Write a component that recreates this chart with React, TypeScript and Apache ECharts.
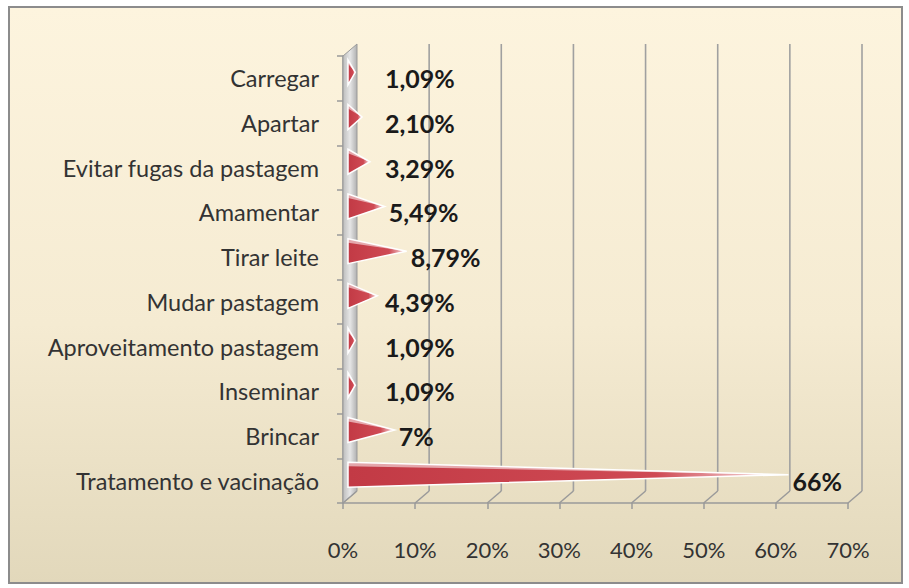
import React, { useEffect, useRef } from 'react';
import * as echarts from 'echarts';

const categories = [
  'Carregar',
  'Apartar',
  'Evitar fugas da pastagem',
  'Amamentar',
  'Tirar leite',
  'Mudar pastagem',
  'Aproveitamento pastagem',
  'Inseminar',
  'Brincar',
  'Tratamento e vacinação',
];
const values = [1.09, 2.1, 3.29, 5.49, 8.79, 4.39, 1.09, 1.09, 7, 66];
const valueLabels = ['1,09%', '2,10%', '3,29%', '5,49%', '8,79%', '4,39%', '1,09%', '1,09%', '7%', '66%'];
const xTicks = [0, 10, 20, 30, 40, 50, 60, 70];

const FONT = 'Lato, "Open Sans", sans-serif';

export default function App() {
  const ref = useRef<HTMLDivElement>(null);
  useEffect(() => {
    document.body.style.margin = '0';
    const chart = echarts.init(ref.current!, null, { renderer: 'svg' });
    const dx = 14;
    const dy = -12;
    const option: any = {
      animation: false,
      backgroundColor: '#ffffff',
      graphic: [
        {
          type: 'rect',
          z: -10,
          silent: true,
          shape: { x: 9, y: 7, width: 893, height: 576 },
          style: {
            fill: new echarts.graphic.LinearGradient(0, 0, 0, 1, [
              { offset: 0, color: '#fdf4de' },
              { offset: 0.55, color: '#f5ebd2' },
              { offset: 1, color: '#e2d8bb' },
            ]),
            stroke: '#8c8c8c',
            lineWidth: 2,
          },
        },
      ],
      grid: { left: 343, right: 61, top: 56, bottom: 85 },
      xAxis: {
        type: 'value',
        min: 0,
        max: 70,
        interval: 10,
        axisLabel: {
          formatter: '{value}%',
          margin: 35,
          fontSize: 22,
          color: '#333333',
          fontFamily: FONT,
        },
        axisLine: { show: true, lineStyle: { color: '#9a9a9a', width: 1.5 } },
        axisTick: { show: true, length: 6, lineStyle: { color: '#9a9a9a', width: 1.5 } },
        splitLine: { show: false },
      },
      yAxis: {
        type: 'category',
        inverse: true,
        data: categories,
        axisLabel: {
          margin: 24,
          fontSize: 23.5,
          color: '#333333',
          fontFamily: FONT,
          padding: [0, 0, 5, 0],
        },
        axisLine: { show: true, lineStyle: { color: '#9a9a9a', width: 1.5 } },
        axisTick: { show: true, length: 6, lineStyle: { color: '#9a9a9a', width: 1.5 } },
      },
      series: [
        {
          type: 'custom',
          silent: true,
          clip: false,
          z: 1,
          data: xTicks.map((t) => [t, 0]),
          encode: { x: 0, y: 1 },
          renderItem: (params: any, api: any) => {
            const cs = params.coordSys;
            const p = api.coord([api.value(0), 0]);
            const x = p[0];
            const top = cs.y;
            const bottom = cs.y + cs.height;
            const children: any[] = [];
            if (api.value(0) === 0) {
              children.push({
                type: 'polygon',
                shape: {
                  points: [
                    [x, top],
                    [x + dx, top + dy],
                    [x + dx, bottom + dy],
                    [x, bottom],
                  ],
                },
                style: {
                  fill: new echarts.graphic.LinearGradient(0, 0, 1, 0, [
                    { offset: 0, color: '#bdbdbd' },
                    { offset: 0.5, color: '#e6e6e6' },
                    { offset: 1, color: '#b0b0b0' },
                  ]),
                  stroke: '#9a9a9a',
                  lineWidth: 1,
                },
              });
            } else {
              children.push({
                type: 'line',
                shape: { x1: x + dx, y1: top + dy, x2: x + dx, y2: bottom + dy },
                style: { stroke: '#a0a0a0', lineWidth: 1.6 },
              });
            }
            children.push({
              type: 'line',
              shape: { x1: x, y1: bottom, x2: x + dx, y2: bottom + dy },
              style: { stroke: '#9a9a9a', lineWidth: 1.5 },
            });
            return { type: 'group', children };
          },
        },
        {
          type: 'custom',
          clip: false,
          z: 5,
          data: values.map((v, i) => [v, i]),
          encode: { x: 0, y: 1 },
          renderItem: (params: any, api: any) => {
            const v = api.value(0);
            const idx = api.value(1);
            const c = api.coord([0, idx]);
            const end = api.coord([v, idx])[0];
            const y = c[1] - 6;
            const h = 25;
            const x0 = c[0] + 5;
            const tip = x0 + (end - c[0]) * 0.925;
            const labelX = Math.max(tip + 4, c[0] + 42);
            return {
              type: 'group',
              children: [
                {
                  type: 'polygon',
                  shape: {
                    points: [
                      [x0, y - h / 2],
                      [tip, y],
                      [x0, y + h / 2],
                    ],
                  },
                  style: {
                    fill: new echarts.graphic.LinearGradient(0, 0, 1, 0, [
                      { offset: 0, color: '#c23a45' },
                      { offset: 0.7, color: '#cf4a54' },
                      { offset: 1, color: '#fbeeee' },
                    ]),
                    stroke: '#ffffff',
                    lineWidth: 1.5,
                  },
                },
                {
                  type: 'polygon',
                  shape: {
                    points: [
                      [x0, y - h / 2],
                      [tip, y],
                      [x0, y - h / 2 + 4],
                    ],
                  },
                  style: { fill: 'rgba(255,255,255,0.55)' },
                },
                {
                  type: 'text',
                  style: {
                    text: valueLabels[idx],
                    x: labelX,
                    y: c[1],
                    fill: '#1a1a1a',
                    fontSize: 25,
                    fontWeight: 'bold',
                    fontFamily: FONT,
                    verticalAlign: 'middle',
                    align: 'left',
                  },
                },
              ],
            };
          },
        },
      ],
    };
    chart.setOption(option);
    return () => chart.dispose();
  }, []);
  return <div ref={ref} style={{ width: 909, height: 588 }} />;
}
